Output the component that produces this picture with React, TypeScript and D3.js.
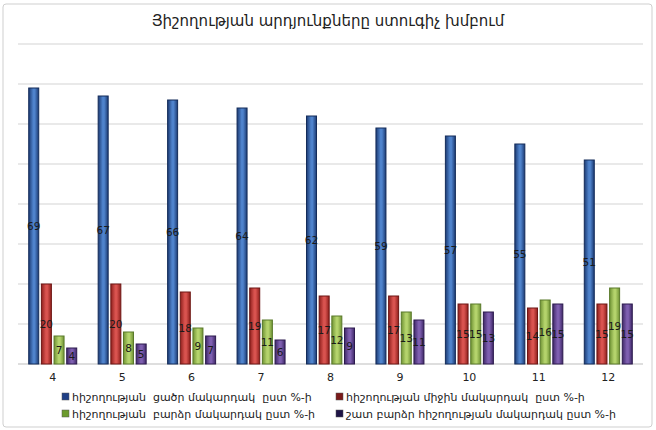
import * as d3 from "d3";
import { useEffect, useRef } from "react";

const grades = ["4", "5", "6", "7", "8", "9", "10", "11", "12"];
const lowLevel = [69, 67, 66, 64, 62, 59, 57, 55, 51];
const midLevel = [20, 20, 18, 19, 17, 17, 15, 14, 15];
const highLevel = [7, 8, 9, 11, 12, 13, 15, 16, 19];
const veryHighLevel = [4, 5, 7, 6, 9, 11, 13, 15, 15];
const seriesNames = [
  "հիշողության  ցածր մակարդակ  ըստ %-ի",
  "հիշողության միջին մակարդակ  ըստ %-ի",
  "հիշողության  բարձր մակարդակ ըստ %-ի",
  "շատ բարձր հիշողության մակարդակ ըստ %-ի",
];
const yTicks = [0, 10, 20, 30, 40, 50, 60, 70, 80];
const title = "Յիշողության արդյունքները ստուգիչ խմբում";

const palette = [
  { edge: "#1c3a72", mid: "#4f83cc", stroke: "#142c5a", key: "#1f3f86" },
  { edge: "#8e1f1c", mid: "#d9534f", stroke: "#6e1614", key: "#7a1a1a" },
  { edge: "#6f9234", mid: "#b4d36c", stroke: "#5a7a2a", key: "#6b9a2c" },
  { edge: "#3f2867", mid: "#7e5fb0", stroke: "#2c1a4e", key: "#1e1446" },
];

const W = 656;
const H = 430;

export default function App() {
  const ref = useRef<SVGSVGElement>(null);

  useEffect(() => {
    const svg = d3.select(ref.current);
    svg.selectAll("*").remove();
    const font = "'DejaVu Sans', sans-serif";

    const series = [lowLevel, midLevel, highLevel, veryHighLevel];
    const left = 18;
    const right = 643;
    const top = 44;
    const bottom = 364;

    const x0 = d3.scaleBand().domain(grades).range([left, right]).padding(0);
    const bw = x0.bandwidth();
    const x1 = d3
      .scaleBand()
      .domain(d3.range(4).map(String))
      .range([bw / 2 - 24, bw / 2 + 24])
      .paddingInner(0.21);
    const y = d3.scaleLinear().domain([0, 80]).range([bottom, top]);

    const defs = svg.append("defs");
    palette.forEach((p, i) => {
      const g = defs
        .append("linearGradient")
        .attr("id", `bar${i}`)
        .attr("x1", "0")
        .attr("x2", "1")
        .attr("y1", "0")
        .attr("y2", "0");
      g.append("stop").attr("offset", "0").attr("stop-color", p.edge);
      g.append("stop").attr("offset", "0.45").attr("stop-color", p.mid);
      g.append("stop").attr("offset", "0.6").attr("stop-color", p.mid);
      g.append("stop").attr("offset", "1").attr("stop-color", p.edge);
    });

    // frame
    svg
      .append("rect")
      .attr("x", 3)
      .attr("y", 4)
      .attr("width", 649)
      .attr("height", 423)
      .attr("rx", 3)
      .attr("fill", "#fff")
      .attr("stroke", "#cfcfcf");

    svg
      .append("text")
      .attr("x", 328)
      .attr("y", 26)
      .attr("text-anchor", "middle")
      .attr("font-family", font)
      .attr("font-size", 15)
      .attr("fill", "#222")
      .text(title);

    // gridlines
    svg
      .append("g")
      .selectAll("line")
      .data(yTicks)
      .join("line")
      .attr("x1", left)
      .attr("x2", right)
      .attr("y1", (d) => y(d))
      .attr("y2", (d) => y(d))
      .attr("stroke", (d) => (d === 0 ? "#bdbdbd" : "#d4d4d4"))
      .attr("stroke-width", 1.2);

    const groups = svg
      .append("g")
      .selectAll("g")
      .data(grades)
      .join("g")
      .attr("transform", (d) => `translate(${x0(d)},0)`);

    groups
      .selectAll("rect")
      .data((_, gi) => series.map((s, si) => ({ si, v: s[gi] })))
      .join("rect")
      .attr("x", (d) => x1(String(d.si))!)
      .attr("y", (d) => y(d.v))
      .attr("width", x1.bandwidth())
      .attr("height", (d) => y(0) - y(d.v))
      .attr("fill", (d) => `url(#bar${d.si})`)
      .attr("stroke", (d) => palette[d.si].stroke)
      .attr("stroke-width", 1);

    groups
      .selectAll("text")
      .data((_, gi) => series.map((s, si) => ({ si, v: s[gi] })))
      .join("text")
      .attr("x", (d) => x1(String(d.si))! + x1.bandwidth() / 2)
      .attr("y", (d) => (y(d.v) + y(0)) / 2 + 4)
      .attr("text-anchor", "middle")
      .attr("font-family", font)
      .attr("font-size", 10.5)
      .attr("fill", "#1a1a1a")
      .text((d) => d.v);

    // category labels
    svg
      .append("g")
      .selectAll("text")
      .data(grades)
      .join("text")
      .attr("x", (d) => x0(d)! + bw / 2)
      .attr("y", 381)
      .attr("text-anchor", "middle")
      .attr("font-family", font)
      .attr("font-size", 11)
      .attr("fill", "#222")
      .text((d) => d);

    // legend
    const legendPos = [
      [62, 397],
      [336, 397],
      [62, 414],
      [336, 414],
    ];
    const legend = svg
      .append("g")
      .selectAll("g")
      .data(seriesNames)
      .join("g")
      .attr("transform", (_, i) => `translate(${legendPos[i][0]},${legendPos[i][1]})`);
    legend
      .append("rect")
      .attr("x", 0)
      .attr("y", -4)
      .attr("width", 7)
      .attr("height", 7)
      .attr("fill", (_, i) => palette[i].key)
      .attr("stroke", "#555")
      .attr("stroke-width", 0.5);
    legend
      .append("text")
      .attr("x", 10)
      .attr("y", 4)
      .attr("font-family", font)
      .attr("font-size", 11)
      .attr("fill", "#222")
      .style("white-space", "pre")
      .text((d) => d);
  }, []);

  return (
    <svg
      ref={ref}
      width={W}
      height={H}
      style={{ position: "absolute", left: 0, top: 0 }}
    />
  );
}
